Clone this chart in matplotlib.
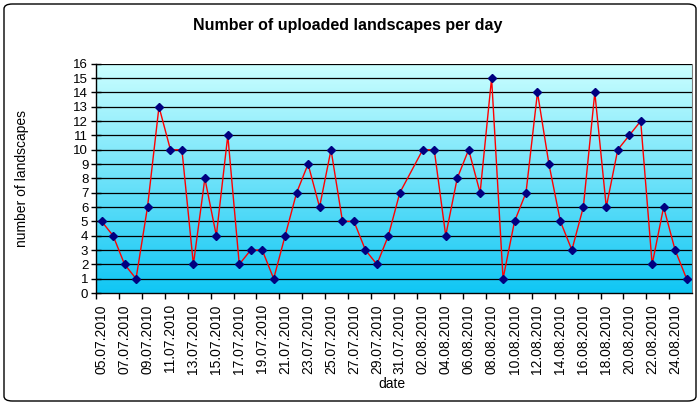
import numpy as np
import pandas as pd
import matplotlib
matplotlib.use("Agg")
import matplotlib.pyplot as plt
import matplotlib.dates as mdates
from matplotlib.patches import FancyBboxPatch

plt.rcParams['font.family'] = ['Liberation Sans', 'DejaVu Sans']

# days in July and August 2010 (01.08 has no entry)
july_days = list(range(5, 32))
aug_days = list(range(2, 26))
dates = ["%02d.07.2010" % d for d in july_days] + ["%02d.08.2010" % d for d in aug_days]
uploads = [5, 4, 2, 1, 6, 13, 10, 10, 2, 8, 4, 11, 2, 3, 3, 1, 4, 7,
           9, 6, 10, 5, 5, 3, 2, 4, 7,
           10, 10, 4, 8, 10, 7, 15, 1, 5, 7, 14, 9, 5, 3, 6, 14, 6, 10, 11, 12, 2, 6, 3, 1]

x = pd.to_datetime(dates, format="%d.%m.%Y")
half = pd.Timedelta(hours=12)
label_dates = pd.date_range(x[0], x[-1], freq="2D")

fig = plt.figure(figsize=(7, 4.05), dpi=100)
ax = fig.add_axes([0.137, 0.2765, 0.852, 0.566])

# gradient background
xmin, xmax = x[0] - half, x[-1] + half
grad = np.linspace(0, 1, 256).reshape(-1, 1)
cmap = matplotlib.colors.LinearSegmentedColormap.from_list("bg", ["#10c6f4", "#ccffff"])
ax.imshow(grad, aspect="auto", cmap=cmap, origin="lower",
          extent=[mdates.date2num(xmin), mdates.date2num(xmax), 0, 16], zorder=0)

for v in range(1, 17):
    ax.axhline(v, color="black", lw=0.9, zorder=1)

ax.plot(x, uploads, color="#ff0000", lw=1, zorder=2)
ax.plot(x, uploads, linestyle="none", marker="D", ms=3.6, color="#000080", zorder=3)

ax.set_xlim(xmin, xmax)
ax.set_ylim(0, 16)
ax.set_yticks(range(0, 17))
ax.tick_params(axis="y", direction="inout", length=7, width=1, labelsize=9.5, pad=2)

ax.set_xticks(label_dates)
ax.xaxis.set_major_formatter(mdates.DateFormatter("%d.%m.%Y"))
ax.tick_params(axis="x", which="major", length=0, labelsize=10, rotation=90, pad=8)
ax.set_xticks(label_dates - half, minor=True)
ax.tick_params(axis="x", which="minor", direction="out", length=4, width=1)

ax.spines["top"].set_visible(False)
ax.spines["right"].set_color("#808080")
ax.spines["left"].set_linewidth(1)
ax.spines["bottom"].set_linewidth(1)

ax.set_ylabel("number of landscapes", fontsize=10)
ax.yaxis.set_label_coords(-0.113, 0.5)
ax.set_xlabel("date", fontsize=10)
ax.xaxis.set_label_coords(0.497, -0.365)
fig.text(0.497, 0.937, "Number of uploaded landscapes per day", ha="center", va="center",
         fontsize=11.5, fontweight="bold")

border = FancyBboxPatch((4 / 700, 4 / 405), 692 / 700, 397 / 405,
                        boxstyle="round,pad=0,rounding_size=0.012",
                        transform=fig.transFigure, fill=False, ec="black", lw=1)
fig.patches.append(border)

fig.savefig("out.png", dpi=100)
